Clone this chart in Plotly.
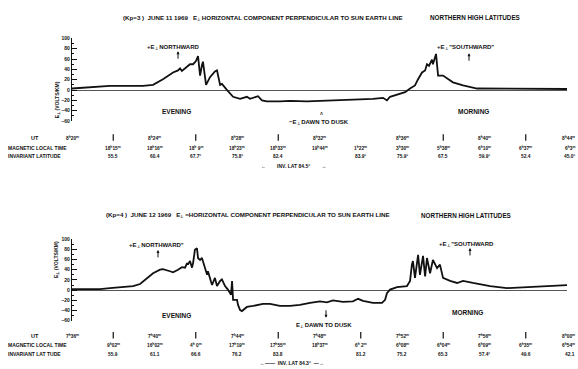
import plotly.graph_objects as go

W, H = 578, 369

# ---------------- data ----------------
# minutes after start of each pass (panel 1 starts 8h20m UT, panel 2 starts 7h36m UT)
t1 = [0, 1.84, 3.44, 3.93, 4.41, 4.90, 5.14, 5.24, 5.33, 5.62, 5.72, 5.87, 6.01, 6.11, 6.21,
      6.30, 6.35, 6.50, 6.69, 6.93, 7.03, 7.18, 7.27, 7.52, 7.81, 8.15, 8.48, 8.63, 8.87, 9.02,
      9.21, 9.45, 10.08, 10.57, 11.39, 12.99, 14.59, 15.08, 15.27, 15.42, 16.15, 16.39, 16.63,
      16.78, 16.97, 17.12, 17.21, 17.31, 17.45, 17.50, 17.65, 17.75, 17.99, 18.47, 18.96, 19.64,
      20.61, 21.87, 24.0]
e1 = [3, 8, 8, 10, 21, 34, 38, 42, 37, 48, 50, 50, 56, 66, 28,
      48, 55, 10, 25, 36, 38, 10, 12, 0, -13, -17, -13, -17, -14, -12,
      -20, -22, -22, -21, -22, -20, -17, -15, -20, -13, -4, 3, 9,
      21, 34, 38, 50, 47, 59, 50, 70, 28, 28, 15, 9, 3,
      3, 2, 2]

t2 = [0, 1.36, 1.84, 2.47, 2.96, 3.30, 3.64, 3.93, 4.27, 4.41, 4.75, 4.90, 5.14, 5.33, 5.48,
      5.58, 5.62, 5.72, 5.82, 5.87, 5.96, 6.06, 6.11, 6.21, 6.30, 6.40, 6.55, 6.59, 6.79, 6.93,
      7.03, 7.18, 7.27, 7.42, 7.56, 7.71, 7.76, 7.81, 8.00, 8.05, 8.15, 8.24, 8.48, 8.78, 9.26,
      9.60, 10.08, 10.57, 11.05, 11.54, 12.02, 12.36, 12.65, 13.14, 13.62, 13.87, 14.11, 14.59,
      15.03, 15.18, 15.27, 15.42, 15.76, 16.24, 16.39, 16.48, 16.53, 16.63, 16.78, 16.87, 17.02,
      17.12, 17.21, 17.36, 17.50, 17.70, 17.84, 17.99, 18.33, 18.67, 18.96, 19.44, 20.27, 21.09,
      21.87, 22.84, 24.0]
e2 = [2, 2, 4, 6, 8, 12, 24, 33, 40, 41, 37, 35, 40, 45, 44,
      53, 50, 57, 44, 53, 79, 82, 63, 59, 63, 50, 30, 37, 10, 24,
      8, 18, 21, 8, 1, -9, 18, -19, -19, -29, -39, -41, -33, -31, -27,
      -27, -31, -31, -29, -25, -22, -24, -20, -23, -22, -17, -21, -25,
      -25, -19, -6, 1, 6, 8, 18, 50, 57, 24, 69, 30, 67,
      27, 63, 33, 59, 43, 50, 24, 18, 14, 18, 14, 8, 4,
      6, 8, 10]

tick_min = [0, 2, 4, 6, 8, 10, 12, 14, 16, 18, 20, 22, 24]

ut1 = ["8<sup>h</sup>20<sup>m</sup>", "|", "8<sup>h</sup>24<sup>m</sup>", "|", "8<sup>h</sup>28<sup>m</sup>", "|",
       "8<sup>h</sup>32<sup>m</sup>", "", "8<sup>h</sup>36<sup>m</sup>", "|", "8<sup>h</sup>40<sup>m</sup>", "|",
       "8<sup>h</sup>44<sup>m</sup>"]
mlt1 = ["", "18<sup>h</sup>15<sup>m</sup>", "18<sup>h</sup>16<sup>m</sup>", "18<sup>h</sup> 9<sup>m</sup>",
        "18<sup>h</sup>23<sup>m</sup>", "18<sup>h</sup>33<sup>m</sup>", "19<sup>h</sup>44<sup>m</sup>",
        "1<sup>h</sup>22<sup>m</sup>", "3<sup>h</sup>30<sup>m</sup>", "5<sup>h</sup>38<sup>m</sup>",
        "6<sup>h</sup>10<sup>m</sup>", "6<sup>h</sup>37<sup>m</sup>", "6<sup>h</sup>3<sup>m</sup>"]
inv1 = ["", "55.5", "60.4", "67.7°", "75.8°", "82.4", "", "83.9°", "75.9°", "67.5", "59.9°", "52.4", "45.0°"]

ut2 = ["7<sup>h</sup>36<sup>m</sup>", "|", "7<sup>h</sup>40<sup>m</sup>", "|", "7<sup>h</sup>44<sup>m</sup>", "|",
       "7<sup>h</sup>48<sup>m</sup>", "|", "7<sup>h</sup>52<sup>m</sup>", "|", "7<sup>h</sup>56<sup>m</sup>", "|",
       "8<sup>h</sup>00<sup>m</sup>"]
mlt2 = ["", "9<sup>h</sup>02<sup>m</sup>", "16<sup>h</sup>02<sup>m</sup>", "4<sup>h</sup> 0<sup>m</sup>",
        "17<sup>h</sup>19<sup>m</sup>", "17<sup>h</sup>55<sup>m</sup>", "18<sup>h</sup>37<sup>m</sup>",
        "6<sup>h</sup> 2<sup>m</sup>", "6<sup>h</sup>08<sup>m</sup>", "6<sup>h</sup>04<sup>m</sup>",
        "6<sup>h</sup>09<sup>m</sup>", "6<sup>h</sup>35<sup>m</sup>", "6<sup>h</sup>54<sup>m</sup>"]
inv2 = ["", "55.9", "61.1", "66.6", "76.2", "83.8", "", "81.2", "75.2", "65.3", "57.4°", "49.6", "42.1"]

y_ticks = [-60, -40, -20, 0, 20, 40, 60, 80, 100]

# ---------------- figure ----------------
FONT = "Liberation Sans, Arial, sans-serif"
INK = "#111111"

def X(px):
    return px / W

def Y(py):
    return 1 - py / H

fig = go.Figure()
fig.add_trace(go.Scatter(x=t1, y=e1, mode="lines", line=dict(color=INK, width=1.8),
                         xaxis="x", yaxis="y", hoverinfo="skip"))
fig.add_trace(go.Scatter(x=t2, y=e2, mode="lines", line=dict(color=INK, width=1.8),
                         xaxis="x2", yaxis="y2", hoverinfo="skip"))

yax = dict(range=[-60, 100], tickvals=y_ticks, ticks="inside", ticklen=5, tickwidth=1,
           tickcolor=INK, showline=True, linecolor=INK, linewidth=1.2, showgrid=False,
           zeroline=True, zerolinecolor="#555", zerolinewidth=0.8,
           tickfont=dict(size=5, color=INK, family=FONT, weight="bold"),
           minor=dict(ticks="inside", ticklen=2, dtick=10, tickcolor=INK))
xax = dict(range=[0, 24], visible=False, domain=[X(72), X(567)])

fig.update_layout(
    width=W, height=H, margin=dict(l=0, r=0, t=0, b=0),
    showlegend=False, plot_bgcolor="white", paper_bgcolor="white",
    xaxis=dict(xax, anchor="y"),
    yaxis=dict(yax, domain=[Y(120), Y(36)], anchor="x"),
    xaxis2=dict(xax, anchor="y2"),
    yaxis2=dict(yax, domain=[Y(323), Y(240)], anchor="x2"),
)

ann = []

def txt(text, px, py, size=6, xanchor="center", xref="paper", x=None, bold=True):
    ann.append(dict(text=text, x=(X(px) if x is None else x), y=Y(py), xref=xref, yref="paper",
                    showarrow=False, xanchor=xanchor, yanchor="middle",
                    font=dict(size=size, color=INK, family=FONT,
                              weight=("bold" if bold else "normal"))))

def arrow(px, py_head, py_tail):
    ann.append(dict(x=X(px), y=Y(py_head), xref="paper", yref="paper", text="",
                    showarrow=True, arrowhead=2, arrowsize=0.6, arrowwidth=1,
                    arrowcolor=INK, ax=0, ay=py_tail - py_head))

def bar(xr, m, py_bottom, length=8):
    ann.append(dict(x=m, y=Y(py_bottom), xref=xr, yref="paper", text="",
                    showarrow=True, arrowhead=0, arrowwidth=1.2, arrowcolor=INK,
                    ax=0, ay=-length, standoff=0, startstandoff=0))

# titles
E = "E<sub>⊥</sub>"
txt("(Kp=3 )  JUNE 11 1969   " + E + " HORIZONTAL COMPONENT PERPENDICULAR TO SUN EARTH LINE",
    121, 15, size=6.2, xanchor="left")
txt("NORTHERN HIGH LATITUDES", 428, 15, size=6.3, xanchor="left")
txt("(Kp=4 )  JUNE 12 1969   " + E + " =HORIZONTAL COMPONENT PERPENDICULAR TO SUN EARTH LINE",
    104, 216, size=6.2, xanchor="left")
txt("NORTHERN HIGH LATITUDES", 419, 216, size=6.3, xanchor="left")

# y-axis titles
for yc in (78, 282):
    ann.append(dict(text=E + " (VOLTS/KM)", x=X(57), y=Y(yc), xref="paper", yref="paper",
                    showarrow=False, textangle=-90, xanchor="center",
                    font=dict(size=5, color=INK, family=FONT, weight="bold")))

# panel 1 labels
txt("+" + E + " NORTHWARD", 173, 45, size=6)
arrow(178, 49, 58)
txt("+" + E + " \"SOUTHWARD\"", 465, 45, size=6)
arrow(469, 51, 60)
txt("EVENING", 176, 110, size=6.5)
txt("MORNING", 473, 110, size=6.5)
txt("−" + E + " DAWN TO DUSK", 319, 121, size=6)
txt("˄", 321, 113, size=5)

# panel 2 labels
txt("+" + E + " NORTHWARD\"", 156, 247, size=6)
arrow(158, 251, 260)
txt("+" + E + " \"SOUTHWARD", 466, 245, size=6)
arrow(470, 249, 258)
txt("EVENING", 176, 318, size=6.5)
txt("MORNING", 467, 315, size=6.5)
txt(E + " DAWN TO DUSK", 324, 328, size=6)
arrow(326, 320, 311)

# tick rows
rows = [
    ("x", ut1, mlt1, inv1, 137, 147, 156, "INVARIANT LATITUDE"),
    ("x2", ut2, mlt2, inv2, 338, 348, 357, "INVARIANT LAT TUDE"),
]
for xr, ut, mlt, inv, yu, ym, yi, invname in rows:
    txt("UT", 35, yu, size=5.5)
    txt("MAGNETIC LOCAL TIME", 6, ym, size=5, xanchor="left")
    txt(invname, 6, yi, size=5, xanchor="left")
    n = len(tick_min)
    for i, (m, u, l, v) in enumerate(zip(tick_min, ut, mlt, inv)):
        last = i == n - 1
        kw = dict(xanchor="right", x=X(577)) if last else dict(xref=xr, x=m)
        if u == "|":
            bar(xr, m, yu + 3, 8)
        elif u:
            txt(u, 0, yu, size=4.8, **kw)
        if l:
            txt(l, 0, ym, size=4.8, **kw)
        if v:
            txt(v, 0, yi, size=4.8, **kw)

txt("←        INV. LAT 84.5°        →", 293, 166, size=5)
txt("←——  INV. LAT 84.3°  —→", 292, 366, size=5)

fig.update_layout(annotations=ann)
fig.write_html("out.html", config={"displayModeBar": False},
               post_script="document.body.style.margin='0';document.body.style.overflow='hidden';")
